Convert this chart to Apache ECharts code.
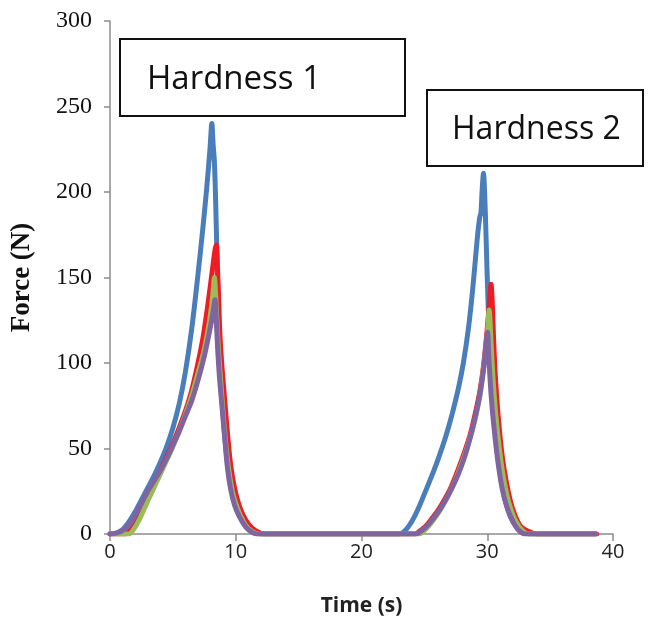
<!DOCTYPE html>
<html>
<head>
<meta charset="utf-8">
<script src="https://cdn.jsdelivr.net/npm/echarts@6/dist/echarts.min.js"></script>
<style>
html,body{margin:0;padding:0;background:#fff;}
#chart{width:665px;height:625px;}
</style>
</head>
<body>
<div id="chart"></div>
<script>
// ---- Data (time in s, force in N) ----
const xTicks = [0, 10, 20, 30, 40];
const yTicks = [0, 50, 100, 150, 200, 250, 300];
const annotations = ['Hardness 1', 'Hardness 2'];

const blueTime  = [0, 0.5, 1.0, 1.5, 2.0, 2.5, 3.0, 3.5, 4.0, 4.5, 5.0, 5.5, 6.0, 6.5, 7.0, 7.4, 7.7, 7.95, 8.1, 8.2, 8.3, 8.4, 8.5, 8.6, 8.7, 8.8, 8.95, 9.15, 9.4, 9.7, 10.05, 10.5, 11.0, 11.5, 12.0,
                   23.0, 23.4, 23.8, 24.2, 24.7, 25.2, 25.7, 26.2, 26.7, 27.2, 27.7, 28.1, 28.5, 28.8, 29.05, 29.25, 29.4, 29.5, 29.6, 29.7, 29.8, 29.9, 30.0, 30.1, 30.2, 30.35, 30.55, 30.8, 31.1, 31.45, 31.85, 32.3, 32.8, 33.3, 38.6];
const blueForce = [0, 0.5, 2.5, 7, 13, 20, 27, 34, 42, 51, 62, 76, 95, 120, 152, 180, 203, 225, 240, 228, 218, 195, 165, 135, 108, 90, 74, 55, 38, 25, 15, 8, 3.5, 1, 0,
                   0, 1.5, 5, 10, 18, 27, 36, 46, 57, 70, 85, 100, 120, 140, 160, 176, 185, 188, 202, 211, 198, 175, 150, 128, 108, 88, 68, 48, 32, 19, 10, 4.5, 1.5, 0, 0];

const redTime  = [0, 1.2, 1.6, 2.0, 2.5, 3.0, 3.5, 4.0, 4.5, 5.0, 5.5, 6.0, 6.5, 7.0, 7.4, 7.8, 8.1, 8.35, 8.45, 8.55, 8.65, 8.75, 8.9, 9.1, 9.35, 9.6, 9.9, 10.3, 10.8, 11.3, 11.8, 12.3,
                  24.2, 24.6, 25.1, 25.6, 26.1, 26.6, 27.1, 27.6, 28.1, 28.6, 29.0, 29.4, 29.7, 30.0, 30.2, 30.3, 30.4, 30.5, 30.6, 30.75, 30.95, 31.2, 31.5, 31.85, 32.2, 32.6, 33.0, 33.5, 33.9, 38.7];
const redForce = [0, 0, 3, 8, 15, 23, 30, 37, 45, 53, 62, 72, 84, 100, 115, 135, 152, 166, 169, 155, 135, 115, 98, 80, 58, 40, 27, 16, 8, 3.5, 1, 0,
                  0, 1.5, 4.5, 9, 14, 20, 27, 36, 46, 57, 69, 83, 98, 120, 138, 146, 135, 115, 98, 80, 62, 45, 31, 19, 11, 5, 2.5, 0.8, 0, 0];

const greenTime  = [0, 1.5, 1.9, 2.3, 2.8, 3.3, 4.0, 4.5, 5.0, 5.5, 6.0, 6.5, 7.0, 7.5, 7.9, 8.15, 8.3, 8.4, 8.5, 8.65, 8.85, 9.05, 9.3, 9.6, 9.9, 10.3, 10.8, 11.3, 11.8,
                    24.6, 25.0, 25.5, 26.0, 26.5, 27.0, 27.5, 28.0, 28.5, 29.0, 29.4, 29.7, 30.0, 30.15, 30.3, 30.45, 30.65, 30.9, 31.2, 31.55, 31.9, 32.3, 32.8, 33.3, 38.6];
const greenForce = [0, 0, 3, 8, 16, 24, 35, 43, 51, 60, 70, 81, 94, 108, 124, 138, 150, 140, 125, 105, 85, 66, 46, 30, 20, 12, 5, 1.5, 0,
                    0, 2, 6, 11, 17, 24, 32, 42, 53, 66, 80, 97, 116, 131, 112, 92, 72, 54, 37, 23, 14, 7, 2, 0, 0];

const purpleTime  = [0, 0.5, 1.0, 1.5, 2.0, 2.5, 3.0, 3.5, 4.0, 4.5, 5.0, 5.5, 6.0, 6.5, 7.0, 7.5, 7.9, 8.2, 8.35, 8.45, 8.55, 8.7, 8.9, 9.1, 9.35, 9.6, 9.9, 10.3, 10.8, 11.3, 11.7,
                     24.3, 24.7, 25.2, 25.7, 26.2, 26.7, 27.2, 27.7, 28.2, 28.6, 29.0, 29.4, 29.7, 29.9, 30.02, 30.15, 30.3, 30.5, 30.8, 31.2, 31.6, 32.0, 32.4, 32.8, 33.0, 38.6];
const purpleForce = [0, 0.5, 2, 5, 11, 18, 25, 31, 37, 44, 52, 60, 69, 78, 90, 104, 118, 130, 137, 125, 110, 92, 75, 58, 38, 26, 17, 10, 4, 1, 0,
                     0, 1.5, 4.5, 9, 14, 20, 27, 35, 45, 55, 67, 81, 96, 110, 118, 100, 82, 65, 45, 26, 15, 8, 3, 0.5, 0, 0];

const seriesNames  = ['Series 1', 'Series 2', 'Series 3', 'Series 4'];
const seriesColors = ['#4A7EBB', '#EE1C25', '#9BBB59', '#8064A2'];
const seriesTimes  = [blueTime, redTime, greenTime, purpleTime];
const seriesForces = [blueForce, redForce, greenForce, purpleForce];

// ---- Chart ----
const chart = echarts.init(document.getElementById('chart'), null, {renderer: 'canvas'});

const series = seriesNames.map((name, i) => ({
  name: name,
  type: 'line',
  data: seriesTimes[i].map((t, j) => [t, seriesForces[i][j]]),
  showSymbol: false,
  smooth: 0.3,
  lineStyle: {color: seriesColors[i], width: 5, cap: 'round', join: 'round'},
  itemStyle: {color: seriesColors[i]},
  z: 2 + i,
  animation: false
}));

const sansFont = "'Open Sans', 'Liberation Sans', sans-serif";
const serifFont = "'Liberation Serif', 'DejaVu Serif', serif";

chart.setOption({
  backgroundColor: '#ffffff',
  animation: false,
  grid: {left: 110, right: 52, top: 21, bottom: 91, containLabel: false},
  xAxis: {
    type: 'value',
    min: xTicks[0], max: xTicks[xTicks.length - 1], interval: 10,
    name: 'Time (s)',
    nameLocation: 'middle',
    nameGap: 62,
    nameTextStyle: {fontFamily: sansFont, fontWeight: 'bold', fontSize: 21, color: '#222'},
    axisLine: {show: true, onZero: true, lineStyle: {color: '#8c8c8c', width: 1.5}},
    axisTick: {show: true, inside: false, length: 7, lineStyle: {color: '#8c8c8c', width: 1.5}},
    axisLabel: {fontFamily: sansFont, fontSize: 20, color: '#222', margin: 8},
    splitLine: {show: false}
  },
  yAxis: {
    type: 'value',
    min: yTicks[0], max: yTicks[yTicks.length - 1], interval: 50,
    name: 'Force (N)',
    nameLocation: 'middle',
    nameGap: 74,
    nameRotate: 90,
    nameTextStyle: {fontFamily: serifFont, fontWeight: 'bold', fontSize: 27, color: '#111'},
    axisLine: {show: true, lineStyle: {color: '#8c8c8c', width: 1.5}},
    axisTick: {show: true, inside: false, length: 6, lineStyle: {color: '#8c8c8c', width: 1.5}},
    axisLabel: {fontFamily: serifFont, fontSize: 24, color: '#111', margin: 18},
    splitLine: {show: false}
  },
  series: series,
  graphic: [
    {type: 'rect', shape: {x: 120, y: 39, width: 285, height: 77},
     style: {fill: '#fff', stroke: '#111', lineWidth: 2}, z: 100},
    {type: 'text', x: 147, y: 80, z: 101,
     style: {text: annotations[0], font: "33px 'Open Sans', sans-serif", fill: '#111', verticalAlign: 'middle'}},
    {type: 'rect', shape: {x: 427, y: 90, width: 216, height: 76},
     style: {fill: '#fff', stroke: '#111', lineWidth: 2}, z: 100},
    {type: 'text', x: 452, y: 130, z: 101,
     style: {text: annotations[1], font: "32px 'Open Sans', sans-serif", fill: '#111', verticalAlign: 'middle'}}
  ]
});
</script>
</body>
</html>
